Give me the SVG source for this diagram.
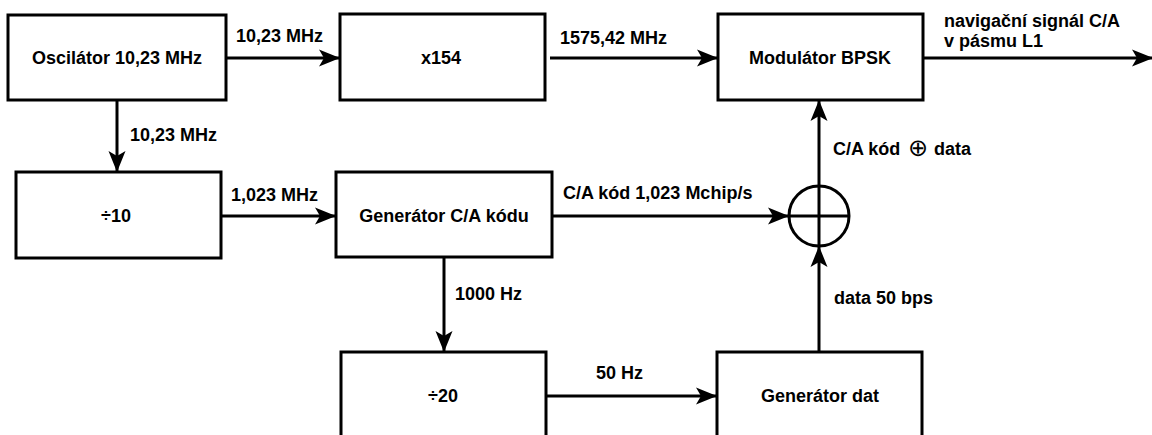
<svg xmlns="http://www.w3.org/2000/svg" width="1152" height="435" viewBox="0 0 1152 435">
<style>
.box{fill:#fff;stroke:#000;stroke-width:3}
.t{font-family:"Liberation Sans",Arial,sans-serif;font-weight:bold;font-size:18px;fill:#000}
.c{text-anchor:middle}
.ln{fill:none;stroke:#000;stroke-width:3}
</style>
<defs>
<marker id="arr" markerUnits="userSpaceOnUse" markerWidth="21" markerHeight="18" refX="20" refY="9" orient="auto" viewBox="0 0 21 18">
<path d="M0,0.5 L21,9 L0,17.5 L5,9 Z" fill="#000"/>
</marker>
</defs>
<rect width="1152" height="435" fill="#fff"/>
<g id="connectors">
<line class="ln" x1="226" y1="58" x2="339" y2="58" marker-end="url(#arr)"/>
<line class="ln" x1="550" y1="58" x2="717" y2="58" marker-end="url(#arr)"/>
<line class="ln" x1="923" y1="58" x2="1152" y2="58" marker-end="url(#arr)"/>
<line class="ln" x1="117" y1="100" x2="117" y2="171" marker-end="url(#arr)"/>
<line class="ln" x1="221" y1="216" x2="335" y2="216" marker-end="url(#arr)"/>
<line class="ln" x1="552" y1="216" x2="788" y2="216" marker-end="url(#arr)"/>
<line class="ln" x1="819" y1="186" x2="819" y2="101" marker-end="url(#arr)"/>
<line class="ln" x1="444" y1="257" x2="444" y2="351" marker-end="url(#arr)"/>
<line class="ln" x1="819" y1="352" x2="819" y2="247" marker-end="url(#arr)"/>
<line class="ln" x1="546" y1="396" x2="716" y2="396" marker-end="url(#arr)"/>
<text class="t" x="236" y="42">10,23 MHz</text>
<text class="t" x="560" y="44">1575,42 MHz</text>
<text class="t" x="944" y="27">navigační signál C/A</text>
<text class="t" x="944" y="47">v pásmu L1</text>
<text class="t" x="130" y="141">10,23 MHz</text>
<text class="t" x="231" y="201">1,023 MHz</text>
<text class="t" x="563" y="199">C/A kód 1,023 Mchip/s</text>
<text class="t" x="833" y="155">C/A kód <tspan x="908" y="156" font-size="24" font-weight="normal" font-family="DejaVu Sans, sans-serif">⊕</tspan><tspan x="934" y="155">data</tspan></text>
<text class="t" x="455" y="300">1000 Hz</text>
<text class="t" x="834" y="304">data 50 bps</text>
<text class="t" x="596" y="379">50 Hz</text>
</g>
<g id="osc"><rect class="box" x="8" y="15" width="218" height="85"/><text class="t c" x="117" y="64">Oscilátor 10,23 MHz</text></g>
<g id="x154"><rect class="box" x="340" y="14" width="205" height="86"/><text class="t c" x="441" y="64">x154</text></g>
<g id="mod"><rect class="box" x="718" y="14" width="205" height="86"/><text class="t c" x="820" y="64">Modulátor BPSK</text></g>
<g id="div10"><rect class="box" x="16" y="172" width="205" height="86"/><text class="t c" x="116" y="222">÷10</text></g>
<g id="gen_ca"><rect class="box" x="336" y="172" width="216" height="85"/><text class="t c" x="444" y="222">Generátor C/A kódu</text></g>
<g id="xor"><circle cx="819" cy="216" r="30" fill="#fff" stroke="#000" stroke-width="3"/><line class="ln" x1="789" y1="216" x2="849" y2="216"/><line class="ln" x1="819" y1="186" x2="819" y2="246"/></g>
<g id="div20"><rect class="box" x="341" y="352" width="205" height="90"/><text class="t c" x="443" y="402">÷20</text></g>
<g id="gen_dat"><rect class="box" x="717" y="352" width="205" height="90"/><text class="t c" x="820" y="402">Generátor dat</text></g>
</svg>
